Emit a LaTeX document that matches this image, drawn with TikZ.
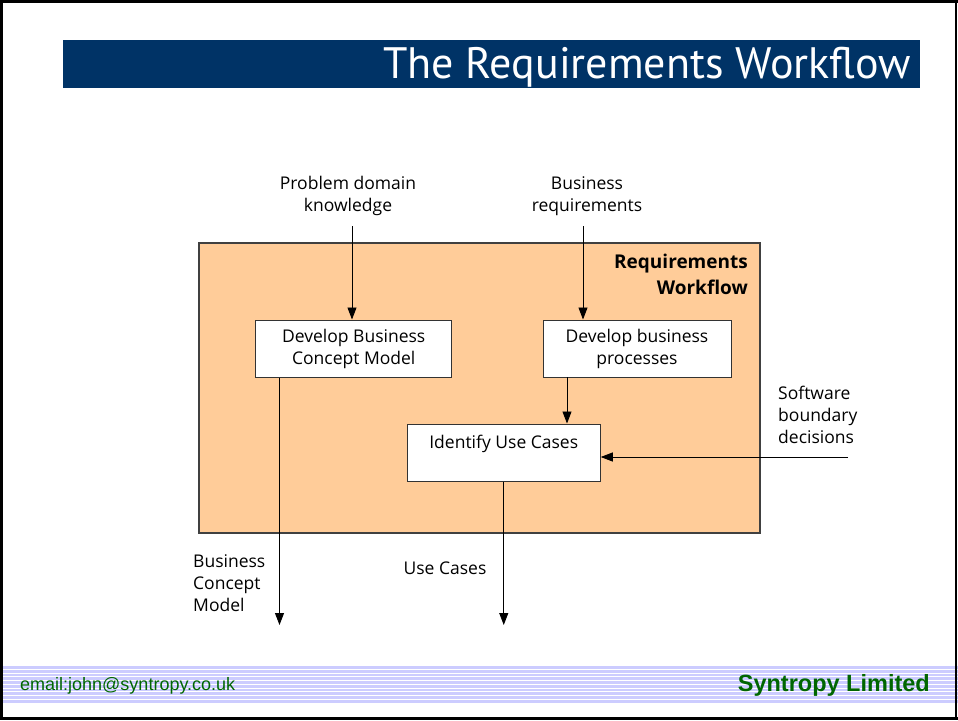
\documentclass[tikz,border=0pt]{standalone}
\usepackage{fontspec}
\setmainfont{Open Sans}
\newfontfamily\titlefont{PT Sans}
\newfontfamily\footfont{Liberation Sans}
\usetikzlibrary{arrows.meta}
\definecolor{titleblue}{RGB}{0,51,102}
\definecolor{flowfill}{RGB}{255,204,153}
\definecolor{stripe}{RGB}{204,204,255}
\definecolor{footgreen}{RGB}{0,102,0}

\begin{document}
\begin{tikzpicture}[x=1pt, y=-1pt, >={Triangle[length=12pt,width=9pt]},
  task/.style={draw=black!80, fill=white, line width=1pt, align=center,
    font=\fontsize{17.5}{22}\selectfont, inner sep=0pt},
  lbl/.style={align=center, font=\fontsize{17.5}{22}\selectfont, inner sep=0pt},
  flow/.style={->, line width=0.9pt}]
\useasboundingbox (0,0) rectangle (958,720);
\fill[white] (0,0) rectangle (958,720);
% title bar
\fill[titleblue] (63,40) rectangle (920,88);
\node[anchor=east, text=white, font=\titlefont\fontsize{44}{44}\selectfont, inner sep=0pt] (title) at (911,67) {The Requirements Workflow};
% footer
\fill[stripe] (0,666) rectangle (958,703);
\foreach \y in {669,672.7,...,700} {
 \fill[white] (0,\y) rectangle (958,\y+1);
}
\node[anchor=west, text=footgreen, font=\footfont\fontsize{18}{18}\selectfont, inner sep=0pt] (email) at (20,686) {email:john@syntropy.co.uk};
\node[anchor=east, text=footgreen, font=\footfont\bfseries\fontsize{23.5}{23.5}\selectfont, inner sep=0pt] (firm) at (930,685) {Syntropy Limited};
% frame
\draw[line width=3pt] (0,1.5) -- (958,1.5);
\draw[line width=3pt] (1.5,0) -- (1.5,720);
\draw[line width=2pt] (956,0) -- (956,720);
\draw[line width=3pt] (0,718.5) -- (958,718.5);
% workflow area
\draw[fill=flowfill, draw=black!75, line width=1.2pt] (199,243) rectangle (760,533);
\node[anchor=north east, align=right, inner sep=0pt, font=\bfseries\fontsize{19}{26}\selectfont] (rwf) at (748,254) {Requirements\\Workflow};
\node[task, minimum width=196pt, minimum height=57pt] (bcm) at (353.75,348.5) {Develop Business\\Concept Model};
\node[task, minimum width=188pt, minimum height=57pt] (bp) at (637,348.5) {Develop business\\processes};
\node[task, minimum width=193pt, minimum height=57pt] (uc) at (503.75,452.5) {Identify Use Cases\\\mbox{}};
% inputs and outputs
\node[lbl] (pdk) at (348,196) {Problem domain\\knowledge};
\node[lbl] (breq) at (587,196) {Business\\requirements};
\node[lbl, align=left, anchor=west] (sbd) at (778,415) {Software\\boundary\\decisions};
\node[lbl, align=left, anchor=west] (bcmlbl) at (193,583) {Business\\Concept\\Model};
\node[lbl] (uclbl) at (445,568) {Use Cases};
\coordinate (pdkend) at (352,226);
\coordinate (breqend) at (583,226);
\coordinate (bpout) at (567,377);
\coordinate (sbdend) at (848,457);
\coordinate (bcmend) at (279.5,625);
\coordinate (ucend) at (503.75,625);
\draw[flow] (pdkend) -- (pdkend |- bcm.north);
\draw[flow] (breqend) -- (breqend |- bp.north);
\draw[flow] (bpout) -- (bpout |- uc.north);
\draw[flow] (sbdend) -- (sbdend -| uc.east);
\draw[flow] (bcm.south -| bcmend) -- (bcmend);
\draw[flow] (uc.south) -- (ucend);
\end{tikzpicture}
\end{document}
